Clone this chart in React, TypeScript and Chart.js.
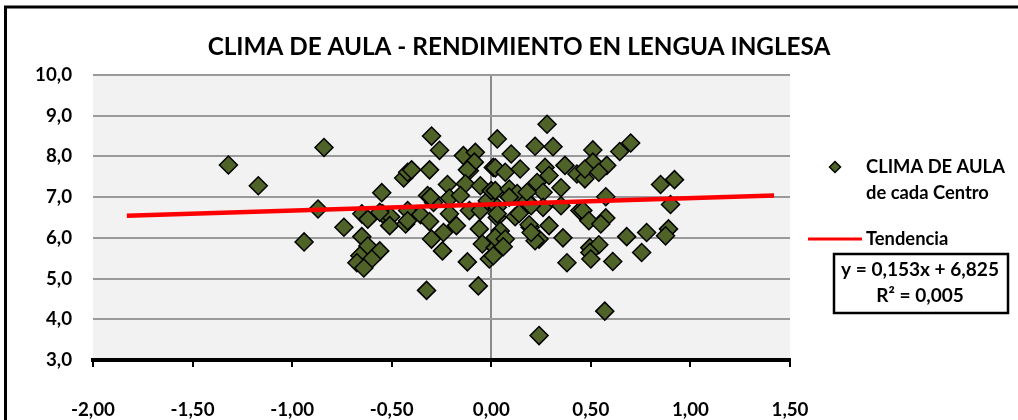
import React, { useEffect, useRef } from 'react';
import { Chart, registerables } from 'chart.js';

Chart.register(...registerables);

const FAMILY = 'Lato, "Noto Sans", sans-serif';

const titleText = 'CLIMA DE AULA - RENDIMIENTO EN LENGUA INGLESA';
const legendSeries = ['CLIMA DE AULA', 'de cada Centro'];
const legendTrend = 'Tendencia';
const equationLines = ['y = 0,153x + 6,825', 'R² = 0,005'];

const xMin = -2;
const xMax = 1.5;
const xStep = 0.5;
const yMin = 3;
const yMax = 10;
const yStep = 1;

// Clima de aula (x) de cada centro
const climaAula = [
  -1.32, -1.17, -0.94, -0.84, -0.87, -0.74, -0.55, -0.65, -0.62, -0.65,
  -0.62, -0.56, -0.66, -0.6, -0.675, -0.64, -0.545, -0.505, -0.51, -0.44,
  -0.42, -0.42, -0.43, -0.56, -0.4, -0.3, -0.26, -0.31, -0.14, -0.08,
  -0.11, -0.085, -0.12, 0.03, 0.01, -0.22, -0.13, -0.055, -0.32, -0.29,
  -0.21, -0.155, -0.42, -0.355, -0.31, -0.21, -0.175, -0.11, -0.055, -0.02,
  0.0, 0.03, 0.03, -0.3, -0.24, -0.245, -0.06, -0.045, -0.01, -0.12,
  -0.325, -0.065, 0.02, 0.045, -0.305,
  0.28, 0.22, 0.31, 0.1, 0.02, 0.07, 0.145, 0.27, 0.29, 0.37,
  0.43, 0.47, 0.02, 0.09, 0.13, 0.23, 0.26, 0.35, 0.18, 0.26,
  0.35, 0.445, 0.03, 0.12, 0.195, 0.29, 0.24, 0.36, 0.02, 0.07,
  0.06, 0.38, 0.24, 0.01, 0.495, 0.46, 0.09, 0.18, 0.2, 0.14,
  0.19, 0.22, 0.2,
  0.51, 0.645, 0.7, 0.51, 0.58, 0.47, 0.54, 0.85, 0.92, 0.575,
  0.9, 0.49, 0.575, 0.55, 0.68, 0.78, 0.89, 0.875, 0.54, 0.495,
  0.5, 0.61, 0.755, 0.57,
];

// Rendimiento en lengua inglesa (y)
const rendimiento = [
  7.79, 7.28, 5.9, 8.22, 6.71, 6.26, 7.11, 6.59, 6.46, 6.03,
  5.8, 5.68, 5.56, 5.48, 5.39, 5.26, 6.59, 6.52, 6.3, 7.47,
  7.61, 6.67, 6.34, 6.63, 7.67, 8.5, 8.15, 7.67, 8.02, 8.1,
  7.65, 7.86, 7.67, 8.43, 7.73, 7.31, 7.33, 7.28, 7.04, 6.87,
  6.98, 7.04, 6.42, 6.57, 6.4, 6.59, 6.3, 6.67, 6.67, 6.91,
  7.16, 6.5, 6.75, 5.97, 6.13, 5.68, 6.22, 5.85, 5.48, 5.41,
  4.71, 4.82, 5.76, 6.17, 7.0,
  8.79, 8.25, 8.24, 8.06, 7.72, 7.61, 7.69, 7.73, 7.53, 7.78,
  7.57, 7.45, 7.16, 7.2, 7.09, 7.36, 7.12, 7.23, 6.91, 6.75,
  6.79, 6.67, 6.59, 6.52, 6.26, 6.3, 5.97, 6.0, 6.01, 5.97,
  5.78, 5.39, 3.6, 5.56, 5.76, 6.67, 7.0, 7.12, 6.79, 6.6,
  6.32, 5.93, 6.13,
  8.16, 8.12, 8.33, 7.86, 7.78, 7.69, 7.61, 7.31, 7.43, 7.01,
  6.82, 6.42, 6.49, 6.34, 6.03, 6.13, 6.22, 6.05, 5.83, 5.64,
  5.48, 5.42, 5.64, 4.2,
];

// Línea de tendencia (regresión mostrada en el gráfico)
const trendSlope = 0.153;
const trendIntercept = 6.825;
const trendRange = [-1.83, 1.42];

const POINT_FILL = '#4f6228';
const GRID = '#9a9a9a';

function fitSize(text: string, target: number): number {
  const c = document.createElement('canvas');
  const ctx = c.getContext('2d')!;
  ctx.font = `bold 100px ${FAMILY}`;
  const w = ctx.measureText(text).width;
  return (100 * target) / w;
}

export default function App() {
  const ref = useRef<HTMLCanvasElement | null>(null);

  useEffect(() => {
    document.body.style.margin = '0';
    const canvas = ref.current;
    if (!canvas) return;

    const titleSize = fitSize(titleText, 623);
    const legendSize = fitSize(legendSeries[0], 139);
    const eqSize = fitSize(equationLines[0], 158);
    const tickSize = fitSize('-2,00', 44);

    const fmtX = (v: number) => v.toFixed(2).replace('.', ',');
    const fmtY = (v: number) => v.toFixed(1).replace('.', ',');

    const scatterData = climaAula.map((x, i) => ({ x, y: rendimiento[i] }));
    const trendData = trendRange.map((x) => ({ x, y: trendSlope * x + trendIntercept }));

    const decor = {
      id: 'decor',
      beforeDraw(chart: any) {
        const { ctx, chartArea } = chart;
        ctx.save();
        ctx.fillStyle = '#ffffff';
        ctx.fillRect(0, 0, chart.width, chart.height);
        ctx.fillStyle = '#f2f2f2';
        ctx.fillRect(chartArea.left, chartArea.top, chartArea.right - chartArea.left, chartArea.bottom - chartArea.top);
        ctx.restore();
      },
      afterDraw(chart: any) {
        const { ctx } = chart;
        ctx.save();
        // outer border
        ctx.strokeStyle = '#000';
        ctx.lineWidth = 3;
        ctx.beginPath();
        ctx.moveTo(5.5, chart.height + 5);
        ctx.lineTo(5.5, 7);
        ctx.lineTo(chart.width + 5, 7);
        ctx.stroke();

        // title
        ctx.fillStyle = '#000';
        ctx.textAlign = 'center';
        ctx.textBaseline = 'middle';
        ctx.font = `bold ${titleSize}px ${FAMILY}`;
        ctx.fillText(titleText, 519, 47);

        // legend: series
        const mx = 835, my = 167, r = 5.5;
        ctx.beginPath();
        ctx.moveTo(mx - r, my);
        ctx.lineTo(mx, my - r);
        ctx.lineTo(mx + r, my);
        ctx.lineTo(mx, my + r);
        ctx.closePath();
        ctx.fillStyle = POINT_FILL;
        ctx.fill();
        ctx.lineWidth = 1.5;
        ctx.strokeStyle = '#000';
        ctx.stroke();

        ctx.fillStyle = '#000';
        ctx.textAlign = 'left';
        ctx.font = `bold ${legendSize}px ${FAMILY}`;
        ctx.fillText(legendSeries[0], 866, 167);
        ctx.fillText(legendSeries[1], 866, 193);

        // legend: trend
        ctx.strokeStyle = '#ff0000';
        ctx.lineWidth = 3;
        ctx.beginPath();
        ctx.moveTo(808, 239);
        ctx.lineTo(862, 239);
        ctx.stroke();
        ctx.fillText(legendTrend, 866, 239);

        // equation box
        ctx.strokeStyle = '#000';
        ctx.lineWidth = 2.5;
        ctx.strokeRect(834, 254, 174, 59);
        ctx.textAlign = 'center';
        ctx.font = `bold ${eqSize}px ${FAMILY}`;
        ctx.fillText(equationLines[0], 920, 270);
        ctx.fillText(equationLines[1], 920, 296);
        ctx.restore();
      },
    };

    const chart = new Chart(canvas, {
      type: 'scatter',
      data: {
        datasets: [
          {
            type: 'line',
            label: legendTrend,
            data: trendData,
            borderColor: '#ff0000',
            borderWidth: 4.5,
            pointRadius: 0,
            fill: false,
            order: 1,
          } as any,
          {
            label: legendSeries.join(' '),
            data: scatterData,
            pointStyle: 'rectRot',
            pointRadius: 9,
            backgroundColor: POINT_FILL,
            borderColor: '#000',
            borderWidth: 1.5,
            order: 2,
          },
        ],
      },
      options: {
        animation: false,
        responsive: false,
        maintainAspectRatio: false,
        events: [],
        layout: { padding: { left: 0, right: 228, top: 75, bottom: 0 } },
        plugins: {
          legend: { display: false },
          title: { display: false },
          tooltip: { enabled: false },
        },
        scales: {
          x: {
            type: 'linear',
            min: xMin,
            max: xMax,
            ticks: {
              stepSize: xStep,
              color: '#000',
              font: { family: FAMILY, weight: 'bold', size: tickSize },
              padding: 32,
              callback: (v: any) => fmtX(Number(v)),
            },
            grid: {
              color: (c: any) => (c.tick && Math.abs(c.tick.value) < 1e-9 ? '#8c8c8c' : 'rgba(0,0,0,0)'),
              lineWidth: 2,
              tickColor: '#000',
              tickLength: 7,
              tickWidth: 2,
            } as any,
            border: { display: true, color: '#000', width: 4 },
            afterFit: (axis: any) => {
              axis.height = 60;
            },
          },
          y: {
            type: 'linear',
            min: yMin,
            max: yMax,
            ticks: {
              stepSize: yStep,
              color: '#000',
              font: { family: FAMILY, weight: 'bold', size: tickSize },
              padding: 21,
              callback: (v: any) => fmtY(Number(v)),
            },
            grid: {
              color: GRID,
              lineWidth: 2,
              drawTicks: false,
            },
            border: { display: false },
            afterFit: (axis: any) => {
              axis.width = 93;
            },
          },
        },
      },
      plugins: [decor],
    });

    return () => chart.destroy();
  }, []);

  return (
    <div style={{ width: 1018, height: 420 }}>
      <canvas ref={ref} width={1018} height={420} style={{ display: 'block', width: 1018, height: 420 }} />
    </div>
  );
}
